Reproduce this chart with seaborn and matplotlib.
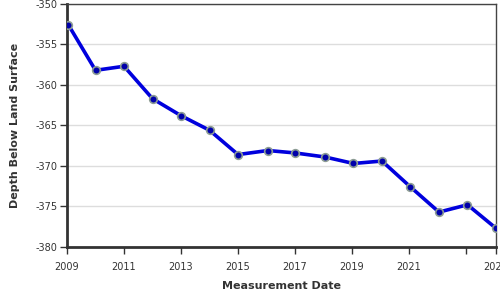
import matplotlib
matplotlib.use("Agg")
import matplotlib.pyplot as plt
import seaborn as sns
import pandas as pd

years = [2009.05, 2010.0, 2011.0, 2012.0, 2013.0, 2014.0, 2015.0, 2016.05, 2017.0,
         2018.05, 2019.05, 2020.05, 2021.05, 2022.05, 2023.05, 2024.05]
depth = [-352.6, -358.2, -357.7, -361.7, -363.8, -365.6, -368.6, -368.1, -368.4,
         -368.9, -369.7, -369.4, -372.6, -375.7, -374.8, -377.7]
xtick_pos = [2009, 2011, 2013, 2015, 2017, 2019, 2021, 2023, 2024.05]
xtick_labels = ["2009", "2011", "2013", "2015", "2017", "2019", "2021", "", "2024"]
ytick_pos = [-380, -375, -370, -365, -360, -355, -350]

df = pd.DataFrame({"year": years, "depth": depth})

sns.set_style("white")
plt.rcParams["font.family"] = ["DejaVu Sans"]

fig = plt.figure(figsize=(5, 3), dpi=100)
ax = fig.add_axes([0.134, 0.177, 0.858, 0.81])

sns.lineplot(data=df, x="year", y="depth", ax=ax, color="#0000dd", linewidth=2.6,
             marker="o", markersize=5.5, markerfacecolor="#0000aa",
             markeredgecolor="#8c9c94", markeredgewidth=1.2, zorder=3)

ax.set_xlim(2009, 2024.05)
ax.set_ylim(-380, -350)
ax.set_xticks(xtick_pos)
ax.set_xticklabels(xtick_labels)
ax.set_yticks(ytick_pos)
ax.set_yticklabels([str(v) for v in ytick_pos])
ax.yaxis.grid(True, color="#dddddd", linewidth=1)
ax.xaxis.grid(False)
ax.set_axisbelow(True)

for s in ["left", "bottom"]:
    ax.spines[s].set_color("#333333")
    ax.spines[s].set_linewidth(2)
for s in ["top", "right"]:
    ax.spines[s].set_color("#444444")
    ax.spines[s].set_linewidth(1)

ax.tick_params(axis="both", which="both", direction="out", length=5, width=1,
               color="#333333", labelsize=7, labelcolor="#333333",
               left=True, bottom=True)
ax.tick_params(axis="x", pad=6)
ax.tick_params(axis="y", pad=2)

ax.set_xlabel("Measurement Date", fontsize=8, fontweight="bold", color="#333333", labelpad=6)
ax.set_ylabel("Depth Below Land Surface", fontsize=8, fontweight="bold", color="#333333", labelpad=11)

fig.savefig("out.png", dpi=100)
